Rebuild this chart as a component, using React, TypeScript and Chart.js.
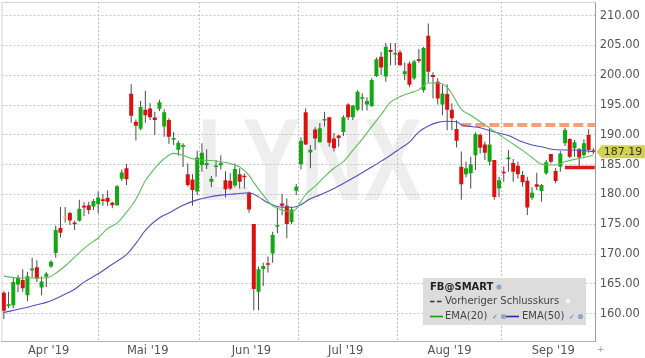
import React, { useEffect, useRef } from 'react';
import { Chart, registerables } from 'chart.js';

Chart.register(...registerables);

// ---------- DATA ----------
// trading days 18 Mar 2019 .. 13 Sep 2019 (index 0..125)
const monthLabels = ["Apr '19", "Mai '19", "Jun '19", "Jul '19", "Aug '19", "Sep '19"];
const monthStartIdx = [10, 31, 53, 73, 95, 117];
const priceTicks = [160, 165, 170, 175, 180, 185, 190, 195, 200, 205, 210];

const opens = [
  163.5, 161.3, 161.4, 164.9, 165.65, 163.1, 167.3, 167.8, 164.4, 166.2,
  167.9, 170.2, 174.4, 176.0, 176.9, 175.3, 175.6, 178.1, 178.2, 178.0, 178.35, 179.2, 179.45, 178.6, 178.2, 182.65, 184.4, 196.9, 192.2, 191.05, 194.2,
  194.45, 192.9, 194.4, 191.4, 192.5, 189.2, 187.5, 188.0, 183.4, 182.5, 180.5, 184.95, 184.9, 182.15, 184.6, 184.9, 182.4, 182.3, 181.5, 183.4, 183.1, 180.3,
  175.05, 163.7, 167.5, 168.4, 170.1, 174.6, 178.5, 178.1, 175.4, 180.65, 185.06, 193.8, 187.05, 190.9, 188.75, 192.4, 192.95, 189.4, 189.9, 190.5,
  195.1, 192.95, 194.2, 196.05, 195.1, 194.85, 199.9, 203.1, 199.8, 204.25, 203.5, 203.85, 200.16, 202.0, 199.5, 202.7, 197.5, 206.65, 200.05, 198.9, 195.1, 196.85,
  194.2, 191.0, 184.67, 183.4, 183.55, 186.6, 190.0, 188.4, 185.5, 185.8, 181.0, 183.8, 185.9, 185.3, 184.84, 183.27, 182.3, 179.47, 181.7, 180.6, 183.56, 186.8,
  183.94, 184.67, 188.6, 189.31, 187.75, 187.6, 186.6, 189.98, 187.4,
];
const highs = [
  163.8, 163.7, 166.1, 166.5, 167.45, 167.05, 169.4, 168.95, 166.3, 167.05,
  168.95, 174.8, 177.9, 177.9, 177.1, 175.6, 179.1, 178.7, 178.8, 179.25, 180.5, 180.1, 180.7, 178.8, 181.6, 184.2, 185.1, 198.5, 192.6, 195.7, 197.4,
  195.3, 193.9, 195.9, 194.3, 192.8, 190.5, 189.0, 188.6, 185.2, 183.4, 187.35, 188.6, 187.6, 183.1, 185.8, 186.6, 183.9, 183.55, 185.2, 184.4, 183.5, 180.5,
  175.05, 167.9, 168.56, 169.6, 173.77, 177.86, 180.1, 179.35, 177.95, 181.76, 189.6, 194.45, 188.3, 191.27, 192.0, 193.9, 193.06, 190.3, 190.0, 193.3,
  195.3, 195.0, 197.5, 197.0, 196.3, 199.5, 203.0, 203.96, 205.4, 205.4, 205.4, 204.25, 202.1, 202.3, 202.6, 204.4, 204.8, 208.7, 200.5, 199.5, 198.4, 198.5,
  195.3, 192.45, 187.2, 185.5, 186.35, 190.43, 190.26, 188.9, 191.1, 185.8, 183.0, 184.7, 187.47, 185.96, 185.5, 183.94, 183.0, 181.2, 183.66, 181.76, 185.79, 186.8,
  184.39, 187.3, 191.2, 189.42, 189.14, 187.8, 189.26, 190.93, 187.8,
];
const lows = [
  159.1, 160.9, 160.9, 163.6, 163.7, 162.1, 166.05, 165.3, 163.1, 164.5,
  167.7, 169.4, 172.8, 175.3, 174.9, 174.05, 175.45, 176.4, 176.7, 177.4, 176.8, 178.1, 178.1, 177.7, 178.1, 182.3, 181.6, 192.05, 189.05, 190.8, 192.05,
  192.5, 190.0, 194.0, 189.7, 188.5, 188.3, 186.5, 184.6, 181.3, 178.1, 179.9, 183.8, 184.3, 181.2, 183.0, 184.2, 179.5, 180.75, 181.2, 181.0, 181.0, 176.95,
  160.6, 160.6, 164.65, 166.9, 168.56, 173.5, 176.5, 172.65, 175.05, 179.9, 184.2, 188.3, 184.4, 187.5, 188.75, 191.4, 188.0, 187.2, 188.0, 189.8,
  192.5, 192.5, 194.0, 194.1, 194.1, 194.7, 199.7, 200.05, 198.9, 201.7, 201.7, 201.6, 199.2, 197.98, 199.2, 202.1, 197.1, 198.8, 196.1, 195.1, 193.3, 190.8,
  190.8, 187.9, 179.1, 182.9, 181.0, 184.1, 186.9, 185.8, 184.9, 179.1, 179.6, 182.15, 183.8, 182.15, 182.7, 181.3, 176.56, 179.1, 180.75, 178.8, 183.27, 185.23,
  181.87, 183.83, 188.14, 186.07, 186.35, 184.6, 186.35, 187.02, 186.8,
];
const closes = [
  160.5, 161.6, 165.3, 166.05, 164.25, 166.3, 167.6, 165.9, 165.4, 166.7,
  168.7, 174.05, 173.6, 176.0, 175.65, 175.0, 177.6, 177.8, 177.4, 178.9, 179.5, 178.9, 178.8, 178.2, 181.4, 183.7, 182.55, 193.2, 191.55, 194.7, 193.3,
  192.95, 192.5, 195.46, 193.8, 189.7, 189.5, 188.7, 188.3, 181.6, 180.75, 186.2, 187.0, 185.3, 182.6, 184.8, 185.3, 180.9, 181.0, 184.3, 182.15, 182.9, 177.5,
  164.15, 167.45, 168.0, 168.2, 173.2, 174.8, 178.1, 175.05, 177.5, 181.3, 189.0, 188.4, 187.5, 189.4, 191.1, 192.65, 188.7, 187.75, 189.5, 192.95,
  192.95, 194.9, 197.25, 196.3, 195.7, 199.2, 202.7, 201.3, 204.8, 203.9, 203.75, 201.7, 200.7, 198.4, 202.3, 202.4, 204.6, 200.6, 199.7, 196.1, 196.96, 194.2,
  192.8, 189.0, 181.7, 184.4, 185.06, 190.15, 187.86, 187.0, 188.4, 179.6, 182.4, 183.55, 186.2, 183.8, 183.4, 182.04, 177.8, 180.3, 181.3, 181.6, 185.4, 185.5,
  182.27, 186.9, 190.82, 186.35, 188.75, 186.2, 188.6, 187.47, 187.19,
];

// EMA lines (trading-day index -> value)
const ema20Idx = [0, 3, 6, 9, 11, 13, 15, 18, 20, 22, 24, 26, 28, 30, 32, 34, 36, 38, 40, 42, 44, 46, 48, 50, 52, 53, 55, 57, 59, 61, 62, 64, 66, 68, 70, 72, 74, 76, 78, 80, 82, 84, 86, 88, 90, 92, 94, 95, 97, 99, 101, 104, 107, 110, 112, 114, 117, 119, 121, 123, 125];
const ema20Val = [166.3, 166.0, 166.0, 166.0, 166.8, 168.0, 169.5, 171.6, 172.7, 174.3, 175.2, 177.0, 179.2, 182.3, 184.4, 186.0, 186.9, 186.6, 186.0, 185.8, 185.7, 185.5, 185.2, 184.6, 183.2, 182.0, 179.9, 178.1, 177.4, 177.1, 177.6, 180.0, 181.4, 183.0, 184.4, 185.5, 187.4, 189.3, 191.4, 193.4, 195.5, 196.4, 197.0, 197.6, 198.7, 198.7, 198.0, 196.9, 194.3, 193.3, 192.2, 190.6, 189.0, 187.4, 186.2, 185.1, 184.95, 185.5, 185.9, 186.2, 186.6];
const ema50Idx = [0, 4, 7, 9, 12, 15, 17, 20, 23, 26, 28, 30, 33, 35, 38, 41, 43, 46, 49, 52, 54, 56, 58, 61, 63, 65, 67, 70, 73, 75, 78, 80, 82, 84, 86, 88, 90, 92, 94, 96, 97, 99, 101, 104, 107, 110, 112, 114, 117, 121, 125];
const ema50Val = [160.2, 160.9, 161.5, 161.9, 162.9, 164.1, 165.3, 166.7, 168.3, 169.9, 171.8, 174.0, 176.1, 176.9, 178.2, 179.1, 179.5, 179.9, 180.1, 180.3, 179.6, 178.6, 178.0, 177.85, 178.3, 179.3, 179.9, 181.0, 182.3, 183.2, 184.6, 185.6, 186.6, 187.7, 188.8, 190.5, 191.5, 192.1, 192.3, 192.2, 191.7, 191.4, 191.2, 190.5, 189.9, 188.8, 188.3, 188.0, 187.5, 187.47, 187.2];

// reference levels
const prevCloseLevel = 191.65;
const prevCloseRange = [97, 125.5];
const markLevel = 184.55;
const markRange = [119, 125.3];

// ---------- STYLE ----------
const GREEN = '#12a812';
const RED = '#dd1010';
const YELLOW = '#e6d400';
const FONT = '"DejaVu Sans", sans-serif';

const bgPlugin = {
  id: 'bgWatermark',
  beforeDraw(chart: any) {
    const { ctx, width, height } = chart;
    ctx.save();
    ctx.fillStyle = '#ffffff';
    ctx.fillRect(0, 0, width, height);
    ctx.fillStyle = '#eeeeee';
    ctx.font = 'bold 116px "Liberation Sans", sans-serif';
    ctx.textBaseline = 'alphabetic';
    const w = ctx.measureText('LYNX').width;
    ctx.translate(197, 200);
    ctx.scale(225 / w, 1);
    ctx.fillText('LYNX', 0, 0);
    ctx.restore();
  },
  beforeDatasetsDraw(chart: any) {
    const { ctx, chartArea } = chart;
    ctx.save();
    ctx.strokeStyle = '#d4d4d4';
    ctx.lineWidth = 1;
    ctx.beginPath();
    ctx.moveTo(chartArea.left + 0.5, chartArea.bottom);
    ctx.lineTo(chartArea.left + 0.5, chartArea.top + 0.5);
    ctx.lineTo(chartArea.right, chartArea.top + 0.5);
    ctx.stroke();
    ctx.restore();
  },
};

const overlayPlugin = {
  id: 'overlay',
  afterDraw(chart: any) {
    const { ctx } = chart;
    const y = chart.scales.y.getPixelForValue(closes[closes.length - 1]);
    const x0 = chart.chartArea.right + 1;
    ctx.save();
    // price tag
    ctx.fillStyle = '#d2d24c';
    ctx.beginPath();
    ctx.moveTo(x0, y);
    ctx.lineTo(x0 + 5, y - 6.5);
    ctx.lineTo(645, y - 6.5);
    ctx.lineTo(645, y + 6.5);
    ctx.lineTo(x0 + 5, y + 6.5);
    ctx.closePath();
    ctx.fill();
    ctx.fillStyle = '#333';
    ctx.font = `11px ${FONT}`;
    ctx.textBaseline = 'middle';
    ctx.textAlign = 'left';
    ctx.fillText(closes[closes.length - 1].toFixed(2), x0 + 7, y + 0.5);

    // plus sign
    ctx.fillStyle = '#999';
    ctx.font = `9px ${FONT}`;
    ctx.fillText('+', 597, 350);

    // legend box
    ctx.fillStyle = '#dcdcdc';
    ctx.fillRect(423, 278, 163, 47);
    ctx.textBaseline = 'middle';
    ctx.fillStyle = '#222';
    ctx.font = `bold 10px ${FONT}`;
    ctx.fillText('FB@SMART', 430, 287);
    const icon = (cx: number, cy: number) => {
      ctx.fillStyle = '#8fa6c8';
      ctx.beginPath();
      ctx.arc(cx, cy, 2.6, 0, Math.PI * 2);
      ctx.fill();
    };
    icon(499, 287);
    // dashed line legend
    ctx.strokeStyle = '#333';
    ctx.lineWidth = 1.5;
    ctx.beginPath();
    ctx.moveTo(430, 301.5); ctx.lineTo(434.5, 301.5);
    ctx.moveTo(437, 301.5); ctx.lineTo(441.5, 301.5);
    ctx.stroke();
    ctx.fillStyle = '#444';
    ctx.font = `10px ${FONT}`;
    ctx.fillText('Vorheriger Schlusskurs', 445, 301);
    ctx.fillStyle = '#f6f6f6';
    ctx.fillRect(566, 299, 4, 4);
    // EMA legends
    ctx.lineWidth = 1.6;
    ctx.strokeStyle = '#1a9a1a';
    ctx.beginPath(); ctx.moveTo(430, 316.5); ctx.lineTo(443, 316.5); ctx.stroke();
    ctx.fillStyle = '#444';
    ctx.fillText('EMA(20)', 445, 316);
    ctx.fillStyle = '#4a78c8';
    ctx.font = `7px ${FONT}`;
    ctx.fillText('✓', 492, 317);
    icon(503.5, 316.5);
    ctx.strokeStyle = '#2a2aa6';
    ctx.beginPath(); ctx.moveTo(506, 316.5); ctx.lineTo(519, 316.5); ctx.stroke();
    ctx.fillStyle = '#444';
    ctx.font = `10px ${FONT}`;
    ctx.fillText('EMA(50)', 522, 316);
    ctx.fillStyle = '#4a78c8';
    ctx.font = `7px ${FONT}`;
    ctx.fillText('✓', 569, 317);
    icon(580.5, 316.5);
    ctx.restore();
  },
};

export default function App() {
  const ref = useRef<HTMLCanvasElement>(null);
  useEffect(() => {
    document.body.style.margin = '0';
    const bodies = opens.map((o, i) => ({ x: i, y: [o, closes[i]] }));
    const wicks = highs.map((h, i) => ({ x: i, y: [lows[i], h] }));
    const bodyColors = opens.map((o, i) => (closes[i] > o ? GREEN : closes[i] < o ? RED : YELLOW));
    const gridStyle = { color: '#c4c4c4', drawTicks: false, lineWidth: 1 };

    const chart = new Chart(ref.current as HTMLCanvasElement, {
      type: 'bar',
      data: {
        datasets: [
          {
            type: 'line', label: 'EMA(20)',
            data: ema20Idx.map((x, k) => ({ x, y: ema20Val[k] })),
            borderColor: '#5cbf5c', borderWidth: 1.1, pointRadius: 0,
            cubicInterpolationMode: 'monotone', order: -2,
          } as any,
          {
            type: 'line', label: 'EMA(50)',
            data: ema50Idx.map((x, k) => ({ x, y: ema50Val[k] })),
            borderColor: '#5050c4', borderWidth: 1.1, pointRadius: 0,
            cubicInterpolationMode: 'monotone', order: -2,
          } as any,
          {
            type: 'line', label: 'Vorheriger Schlusskurs',
            data: prevCloseRange.map((x) => ({ x, y: prevCloseLevel })),
            borderColor: '#f4a07a', borderWidth: 4, borderDash: [10, 4], pointRadius: 0, order: -1,
          } as any,
          {
            type: 'line', label: 'mark',
            data: markRange.map((x) => ({ x, y: markLevel })),
            borderColor: '#e01818', borderWidth: 3.5, pointRadius: 0, order: -1,
          } as any,
          {
            type: 'bar', label: 'body', data: bodies as any,
            backgroundColor: bodyColors, barThickness: 4, maxBarThickness: 4,
            grouped: false, minBarLength: 1.5, inflateAmount: 0, borderWidth: 0, order: 0,
          } as any,
          {
            type: 'bar', label: 'wick', data: wicks as any,
            backgroundColor: '#4a4a4a', barThickness: 1, maxBarThickness: 1,
            grouped: false, inflateAmount: 0, borderWidth: 0, order: 1,
          } as any,
        ],
      },
      options: {
        responsive: false,
        animation: false,
        devicePixelRatio: 1,
        events: [],
        layout: { padding: { left: 1.5, top: 2, right: 0, bottom: 0 } },
        plugins: { legend: { display: false }, tooltip: { enabled: false } },
        scales: {
          x: {
            type: 'linear', offset: false, min: -0.5, max: opens.length - 0.5,
            grid: gridStyle,
            border: { display: true, color: '#b4b4b4', dash: [2, 2] },
            afterBuildTicks: (scale: any) => {
              scale.ticks = monthStartIdx.map((i) => ({ value: i - 0.5 }));
            },
            afterFit: (scale: any) => {
              scale.height = 17;
              scale.paddingLeft = 0;
              scale.paddingRight = 0;
            },
            ticks: {
              autoSkip: false, maxRotation: 0, minRotation: 0, padding: 3,
              color: '#555', font: { family: FONT, size: 11.5 },
              callback: (v: any) => {
                const k = monthStartIdx.findIndex((i) => Math.abs(i - 0.5 - v) < 1e-6);
                return k >= 0 ? monthLabels[k] : '';
              },
            },
          },
          y: {
            type: 'linear', position: 'right', min: 155.42, max: 212.3,
            grid: gridStyle,
            border: { display: true, color: '#9a9a9a', dash: [2, 2] },
            afterBuildTicks: (scale: any) => {
              scale.ticks = priceTicks.map((v) => ({ value: v }));
            },
            afterFit: (scale: any) => {
              scale.width = 645 - 595.7;
              scale.paddingTop = 0;
              scale.paddingBottom = 0;
            },
            ticks: {
              padding: 4, color: '#555', font: { family: FONT, size: 11.5 },
              callback: (v: any) => Number(v).toFixed(2),
            },
          },
        },
      } as any,
      plugins: [bgPlugin, overlayPlugin],
    });
    return () => chart.destroy();
  }, []);
  return (
    <div style={{ width: 645, height: 358 }}>
      <canvas ref={ref} width={645} height={358} style={{ display: 'block', width: 645, height: 358 }} />
    </div>
  );
}
